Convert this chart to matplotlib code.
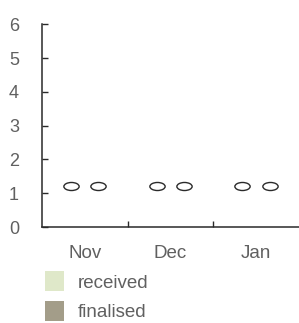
import numpy as np
import matplotlib.pyplot as plt
from matplotlib.path import Path
from matplotlib.transforms import Affine2D
from matplotlib.patches import Patch

# data
months = ['Nov', 'Dec', 'Jan']
received = [1.22, 1.22, 1.22]
finalised = [1.22, 1.22, 1.22]
y_ticks = [0, 1, 2, 3, 4, 5, 6]

plt.rcParams['font.family'] = ['Liberation Sans', 'DejaVu Sans']

# open ellipse marker
ellipse = Path.unit_circle().transformed(Affine2D().scale(1.9, 1.0))

text_col = '#606060'
axis_col = '#2a2a2a'

fig = plt.figure(figsize=(2.99, 3.23), dpi=100)
ax = fig.add_axes([0.14, 0.297, 0.86, 0.628])

x = np.arange(len(months))
ax.plot(x - 0.16, received, linestyle='none', marker=ellipse, markersize=11,
        markerfacecolor='none', markeredgecolor=axis_col, markeredgewidth=1.0)
ax.plot(x + 0.16, finalised, linestyle='none', marker=ellipse, markersize=11,
        markerfacecolor='none', markeredgecolor=axis_col, markeredgewidth=1.0)

ax.set_xlim(-0.5, 2.5)
ax.set_ylim(0, 6)
ax.spines['top'].set_visible(False)
ax.spines['right'].set_visible(False)
for s in ['left', 'bottom']:
    ax.spines[s].set_color(axis_col)
    ax.spines[s].set_linewidth(1.1)

ax.set_yticks(y_ticks)
ax.set_yticklabels([str(v) for v in y_ticks])
ax.tick_params(axis='y', direction='in', length=4, width=1.0, color=axis_col,
               labelsize=13, labelcolor=text_col, pad=16.5)

ax.set_xticks(x)
ax.set_xticklabels(months)
ax.tick_params(axis='x', which='major', length=0, labelsize=13.5,
               labelcolor=text_col, pad=13)
ax.set_xticks([0.5, 1.5], minor=True)
ax.tick_params(axis='x', which='minor', direction='in', length=4, width=1.0,
               color=axis_col)

handles = [Patch(facecolor='#dfe8c9', edgecolor='none', label='received'),
           Patch(facecolor='#a39d89', edgecolor='none', label='finalised')]
fig.legend(handles=handles, loc='upper left', bbox_to_anchor=(0.15, 0.16),
           frameon=False, fontsize=13.5, labelcolor=text_col,
           handlelength=1.0, handleheight=1.25, handletextpad=0.75,
           labelspacing=0.5, borderaxespad=0, borderpad=0)

fig.savefig('out.png', dpi=100)
